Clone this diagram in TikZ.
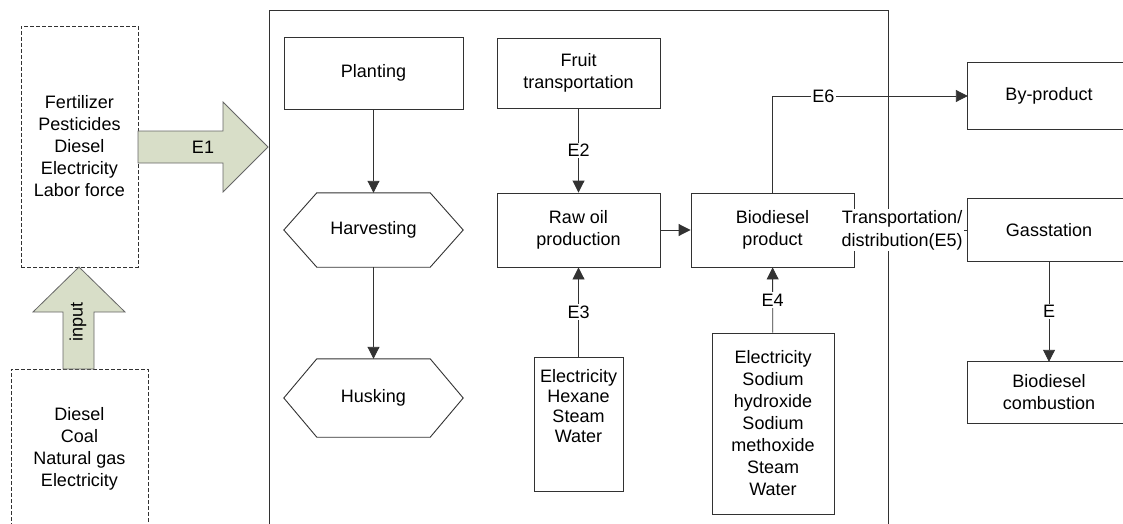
\documentclass[tikz,border=0pt]{standalone}
\usepackage{fontspec}
\setmainfont{Liberation Sans}
\usetikzlibrary{arrows.meta,calc}
\definecolor{arrowfill}{RGB}{216,222,200}
\definecolor{linegray}{RGB}{50,50,50}
\begin{document}
\begin{tikzpicture}[x=1pt,y=-1pt,
  every node/.style={font=\fontsize{18}{22}\selectfont, align=center, inner sep=0pt},
  box/.style={draw=linegray, line width=0.9pt, fill=white},
  hexline/.style={draw=linegray, line width=0.9pt},
  dbox/.style={draw=linegray, line width=0.8pt, dash pattern=on 4pt off 2pt},
  hexnode/.style={minimum width=179, minimum height=#1},
  conn/.style={draw=linegray, line width=0.9pt},
  arr/.style={conn, -{Triangle[length=12pt,width=12pt]}},
  lab/.style={fill=white, inner sep=1.5pt},
  blockarrow/.style={draw=black!60, fill=arrowfill, line width=0.8pt}
]
\useasboundingbox (0,0) rectangle (1123,524);
\clip (0,0) rectangle (1123,524);

% frame
\draw[conn] (269,10) rectangle (888,560);

% left inputs
\node[dbox, minimum width=117, minimum height=241] (in1) at (79.5,146.5) {Fertilizer\\Pesticides\\Diesel\\Electricity\\Labor force};
\node[dbox, minimum width=137, minimum height=160] (in2) at (79.5,449) {Diesel\\Coal\\Natural gas\\Electricity};

\draw[blockarrow] (138,131) -- (223,131) -- (223,102) -- (268,147) -- (223,192) -- (223,163) -- (138,163) -- cycle;
\node (e1) at (203,147) {E1};

\draw[blockarrow] (63,369) -- (63,312) -- (33,312) -- (79,267) -- (125,312) -- (94,312) -- (94,369) -- cycle;
\node[rotate=90] (inp) at (78,322) {input};

% planting chain
\node[box, minimum width=179, minimum height=72] (plant) at (373.5,73) {Planting};
\node[hexnode=74] (harv) at (373.5,230) {Harvesting};
\draw[hexline] (harv.west) -- ($(harv.north west)+(33,0)$) -- ($(harv.north east)+(-33,0)$) -- (harv.east) -- ($(harv.south east)+(-33,0)$) -- ($(harv.south west)+(33,0)$) -- cycle;
\node[hexnode=78] (husk) at (373.5,398) {Husking};
\draw[hexline] (husk.west) -- ($(husk.north west)+(33,0)$) -- ($(husk.north east)+(-33,0)$) -- (husk.east) -- ($(husk.south east)+(-33,0)$) -- ($(husk.south west)+(33,0)$) -- cycle;
\draw[arr] (plant) -- (harv);
\draw[arr] (harv) -- (husk);

% oil chain
\node[box, minimum width=163, minimum height=70] (fruit) at (578.5,73) {Fruit\\transportation};
\node[box, minimum width=163, minimum height=74] (raw) at (578.5,230) {Raw oil\\production};
\draw[arr] (fruit) -- node[lab]{E2} (raw);
\node[box, minimum width=89, minimum height=134] (m3) at (578.5,424) {};
\node[font=\fontsize{18}{20}\selectfont] (m3t) at (578.5,406) {Electricity\\Hexane\\Steam\\Water};
\draw[arr] (m3) -- node[lab]{E3} (raw);

\node[box, minimum width=163, minimum height=74] (bio) at (772.5,230) {Biodiesel\\product};
\node[box, minimum width=122, minimum height=181] (m4) at (773,423.5) {Electricity\\Sodium\\hydroxide\\Sodium\\methoxide\\Steam\\Water};
\draw[arr] (raw) -- (bio);
\draw[arr] (m4) -- node[lab]{E4} (bio);

% right side (boxes run past the right edge of the picture)
\node[minimum width=162, minimum height=66] (byp) at (1049,96) {By-product};
\node[minimum width=162, minimum height=62] (gas) at (1049,230) {Gasstation};
\node[minimum width=162, minimum height=61] (comb) at (1049,392.5) {Biodiesel\\combustion};
\draw[hexline] (byp.north west) rectangle ($(byp.south east)+(30,0)$);
\draw[hexline] (gas.north west) rectangle ($(gas.south east)+(30,0)$);
\draw[hexline] (comb.north west) rectangle ($(comb.south east)+(30,0)$);
\draw[arr] (bio) |- node[lab, pos=0.63]{E6} (byp);
\draw[arr] (gas) -- node[lab]{E} (comb);
\draw[conn] (bio) -- node[lab, pos=0.42, font=\fontsize{18}{23}\selectfont]{Transportation/\\distribution(E5)} (gas);
\end{tikzpicture}
\end{document}
